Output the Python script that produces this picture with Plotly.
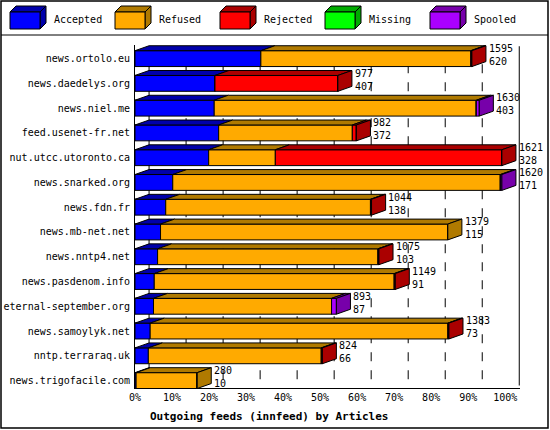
import plotly.graph_objects as go

hosts = ["news.ortolo.eu","news.daedelys.org","news.niel.me","feed.usenet-fr.net",
         "nut.utcc.utoronto.ca","news.snarked.org","news.fdn.fr","news.mb-net.net",
         "news.nntp4.net","news.pasdenom.info","eternal-september.org","news.samoylyk.net",
         "nntp.terraraq.uk","news.trigofacile.com"]
accepted = [34.0,21.6,21.4,22.6,19.9,10.2,8.3,6.9,6.1,5.2,5.0,4.1,3.6,0.3]
refused  = [56.7,0.0,70.8,36.1,18.0,88.5,55.3,77.6,59.5,64.8,48.1,80.4,46.7,16.5]
rejected = [0.3,33.2,0.0,1.1,61.2,0.0,0.3,0.0,0.3,0.3,0.0,0.3,0.3,0.0]
missing  = [0]*14
spooled  = [0.0,0.0,0.8,0.0,0.0,0.4,0.0,0.0,0.0,0.0,1.3,0.0,0.0,0.0]
offered  = [1595,977,1630,982,1621,1620,1044,1379,1075,1149,893,1383,824,280]
sent     = [620,407,403,372,328,171,138,115,103,91,87,73,66,10]
names = ["Accepted","Refused","Rejected","Missing","Spooled"]
front = ["#0000ff","#ffaa00","#ff0000","#00ff00","#aa00ff"]
dark  = ["#0000aa","#b07a00","#aa0000","#00aa00","#7700aa"]
series = [accepted,refused,rejected,missing,spooled]

FONT = "DejaVu Sans Mono"
H = 0.64; DX = 3.8; DY = 0.2
fig = go.Figure()
ys = list(range(len(hosts)))
bases = [0.0]*len(hosts)
shapes = []
for s, vals in enumerate(series):
    fig.add_trace(go.Bar(y=ys, x=vals, base=bases[:], orientation="h", width=H,
                         marker=dict(color=front[s], line=dict(color="black", width=1)),
                         name=names[s], showlegend=False, hoverinfo="skip"))
    for i, v in enumerate(vals):
        if v > 0:
            x0, x1 = bases[i], bases[i] + v
            yt = i - H/2
            shapes.append(dict(type="path", xref="x", yref="y", layer="above",
                path=f"M{x0},{yt} L{x0+DX},{yt-DY} L{x1+DX},{yt-DY} L{x1},{yt} Z",
                fillcolor=dark[s], line=dict(color="black", width=1)))
    bases = [b + v for b, v in zip(bases, vals)]

annotations = []
for i in ys:
    last = max(s for s in range(5) if series[s][i] > 0)
    e = bases[i]; yt = i - H/2; yb = i + H/2
    shapes.append(dict(type="path", xref="x", yref="y", layer="above",
        path=f"M{e},{yt} L{e+DX},{yt-DY} L{e+DX},{yb-DY} L{e},{yb} Z",
        fillcolor=dark[last], line=dict(color="black", width=1)))
    annotations.append(dict(x=e+DX+0.2, y=i-0.15, xref="x", yref="y", xanchor="left",
        yanchor="middle", showarrow=False, align="left",
        text=f"{offered[i]}<br>{sent[i]}",
        font=dict(family=FONT, size=10, color="black")))

for k in range(1, 11):
    shapes.append(dict(type="line", xref="x", yref="y", x0=k*10+DX, x1=k*10+DX,
        y0=-0.5, y1=13.2, line=dict(color="black", width=1, dash="dash" if k < 10 else "solid"),
        layer="below"))
shapes.append(dict(type="line", xref="x", yref="y", x0=DX, x1=DX, y0=-0.5, y1=13.2,
                   line=dict(color="black", width=1), layer="below"))

L, R, T, B = 135, 520, 45, 388
def px(x): return (x - L) / (R - L)
def py(y): return (B - y) / (B - T)

shapes.append(dict(type="rect", xref="paper", yref="paper", x0=px(1), x1=px(548),
                   y0=py(428), y1=py(1), line=dict(color="black", width=1.5)))
shapes.append(dict(type="line", xref="paper", yref="paper", x0=px(1), x1=px(548),
                   y0=py(35), y1=py(35), line=dict(color="black", width=1)))
for s in range(5):
    x0 = 10 + s * 105
    shapes.append(dict(type="path", xref="paper", yref="paper",
        path=f"M{px(x0)},{py(12)} L{px(x0+6)},{py(6)} L{px(x0+36)},{py(6)} L{px(x0+30)},{py(12)} Z",
        fillcolor=dark[s], line=dict(color="black", width=1)))
    shapes.append(dict(type="path", xref="paper", yref="paper",
        path=f"M{px(x0+30)},{py(12)} L{px(x0+36)},{py(6)} L{px(x0+36)},{py(23)} L{px(x0+30)},{py(29)} Z",
        fillcolor=dark[s], line=dict(color="black", width=1)))
    shapes.append(dict(type="rect", xref="paper", yref="paper", x0=px(x0), x1=px(x0+30),
        y0=py(29), y1=py(12), fillcolor=front[s], line=dict(color="black", width=1)))
    annotations.append(dict(x=px(x0+42), y=py(20), xref="paper", yref="paper",
        xanchor="left", yanchor="middle", showarrow=False, text=names[s],
        font=dict(family=FONT, size=10, color="black")))
annotations.append(dict(x=px(148), y=py(416), xref="paper", yref="paper", xanchor="left",
    yanchor="middle", showarrow=False, text="<b>Outgoing feeds (innfeed) by Articles</b>",
    font=dict(family=FONT, size=11, color="black")))

fig.update_layout(
    width=550, height=430, margin=dict(l=L, r=550-R, t=T, b=430-B, autoexpand=False),
    paper_bgcolor="white", plot_bgcolor="white", barmode="overlay",
    shapes=shapes, annotations=annotations,
    xaxis=dict(range=[0, 104], tickvals=list(range(0, 101, 10)), automargin=False,
               ticktext=[f"{k}%" for k in range(0, 101, 10)], showgrid=False, zeroline=False,
               showline=True, linecolor="black", ticks="",
               tickfont=dict(family=FONT, size=10, color="black")),
    yaxis=dict(range=[13.3, -0.55], tickvals=ys, ticktext=hosts, showgrid=False, automargin=False,
               zeroline=False, showline=True, linecolor="black", ticks="", ticklabelstandoff=2,
               tickfont=dict(family=FONT, size=10, color="black")),
)
fig.write_html("out.html", config={"displayModeBar": False},
               post_script="document.body.style.margin='0';document.body.style.overflow='hidden';")
